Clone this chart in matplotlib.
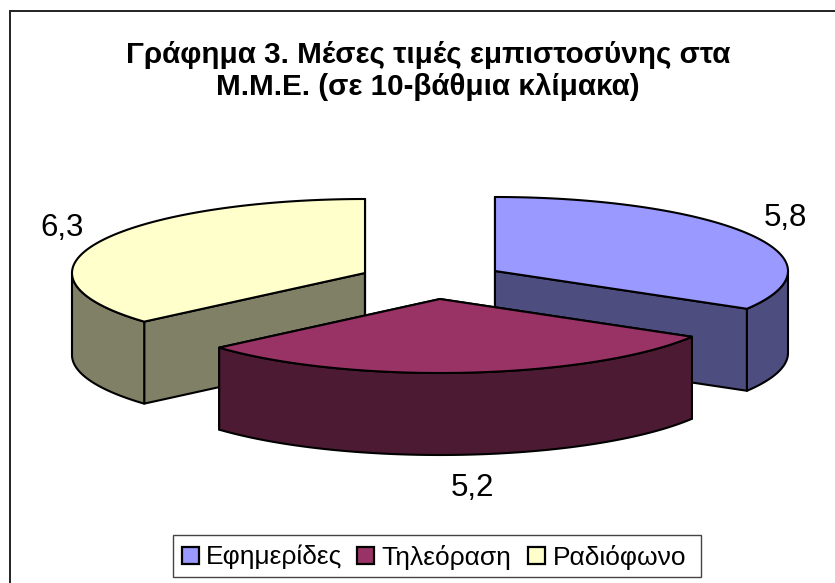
import numpy as np
import matplotlib
matplotlib.use("Agg")
import matplotlib.pyplot as plt
from matplotlib.patches import Polygon, Rectangle

title = "Γράφημα 3. Μέσες τιμές εμπιστοσύνης στα\nΜ.Μ.Ε. (σε 10-βάθμια κλίμακα)"
categories = ["Εφημερίδες", "Τηλεόραση", "Ραδιόφωνο"]
values = [5.8, 5.2, 6.3]
value_labels = ["5,8", "5,2", "6,3"]
top_colors = ["#9999FF", "#993366", "#FFFFCC"]
side_colors = ["#4D4D80", "#4D1A33", "#808066"]

W, H = 835, 583
plt.rcParams["font.family"] = ["Liberation Sans", "DejaVu Sans"]
fig = plt.figure(figsize=(W / 100, H / 100), dpi=100)
ax = fig.add_axes([0, 0, 1, 1])
ax.set_xlim(0, W)
ax.set_ylim(H, 0)
ax.axis("off")

# frame: only the top and left edges fall inside the picture
ax.plot([10, 10, W], [H, 11, 11], color="#222222", lw=1.4, zorder=1, solid_joinstyle="miter")

# pie layout: apex position of each exploded slice, radii, depth
apex = [(495, 271), (440, 299), (365, 273)]
RX, RY, DEPTH = 293, 74, 82
LW = 1.5

fractions = np.array(values) / sum(values) * 2 * np.pi
ends = np.cumsum(fractions)
starts = ends - fractions


def rim(cx, cy, a0, a1, n=200):
    t = np.linspace(a0, a1, n)
    return np.column_stack([cx + RX * np.sin(t), cy - RY * np.cos(t)])


def draw_slice(i, z):
    cx, cy = apex[i]
    a0, a1 = starts[i], ends[i]
    top = rim(cx, cy, a0, a1)
    edge = dict(ec="black", lw=LW, joinstyle="round", zorder=z)
    # inner cut faces
    for p in (top[0], top[-1]):
        wall = [(cx, cy), tuple(p), (p[0], p[1] + DEPTH), (cx, cy + DEPTH)]
        ax.add_patch(Polygon(wall, closed=True, fc=side_colors[i], **edge))
    # outer rim, only the part facing the viewer
    lo, hi = max(a0, np.pi / 2), min(a1, 3 * np.pi / 2)
    if hi > lo:
        r = rim(cx, cy, lo, hi)
        band = np.vstack([r, (r + [0, DEPTH])[::-1]])
        ax.add_patch(Polygon(band, closed=True, fc=side_colors[i], **edge))
    # top surface
    ax.add_patch(Polygon(np.vstack([[cx, cy], top]), closed=True, fc=top_colors[i], **edge))


for z, i in enumerate([0, 2, 1], start=2):
    draw_slice(i, z)

# title
ax.text(428, 71, title, ha="center", va="center", fontsize=21.3, fontweight="bold",
        linespacing=1.16, zorder=10)

# value labels
label_pos = [(785, 218), (472, 488), (62, 228)]
for txt, (x, y) in zip(value_labels, label_pos):
    ax.text(x, y, txt, ha="center", va="center", fontsize=22.5, zorder=10)

# legend
ax.add_patch(Rectangle((173, 535), 528, 42, fc="white", ec="#444444", lw=1.0, zorder=10))
swatch_x = [182, 357, 528]
text_x = [206, 381, 553]
for x, tx, c, name in zip(swatch_x, text_x, top_colors, categories):
    ax.add_patch(Rectangle((x, 547), 17, 17, fc=c, ec="black", lw=1.6, zorder=11))
    ax.text(tx, 557, name, ha="left", va="center", fontsize=19, zorder=11)

fig.savefig("out.png", dpi=100)
